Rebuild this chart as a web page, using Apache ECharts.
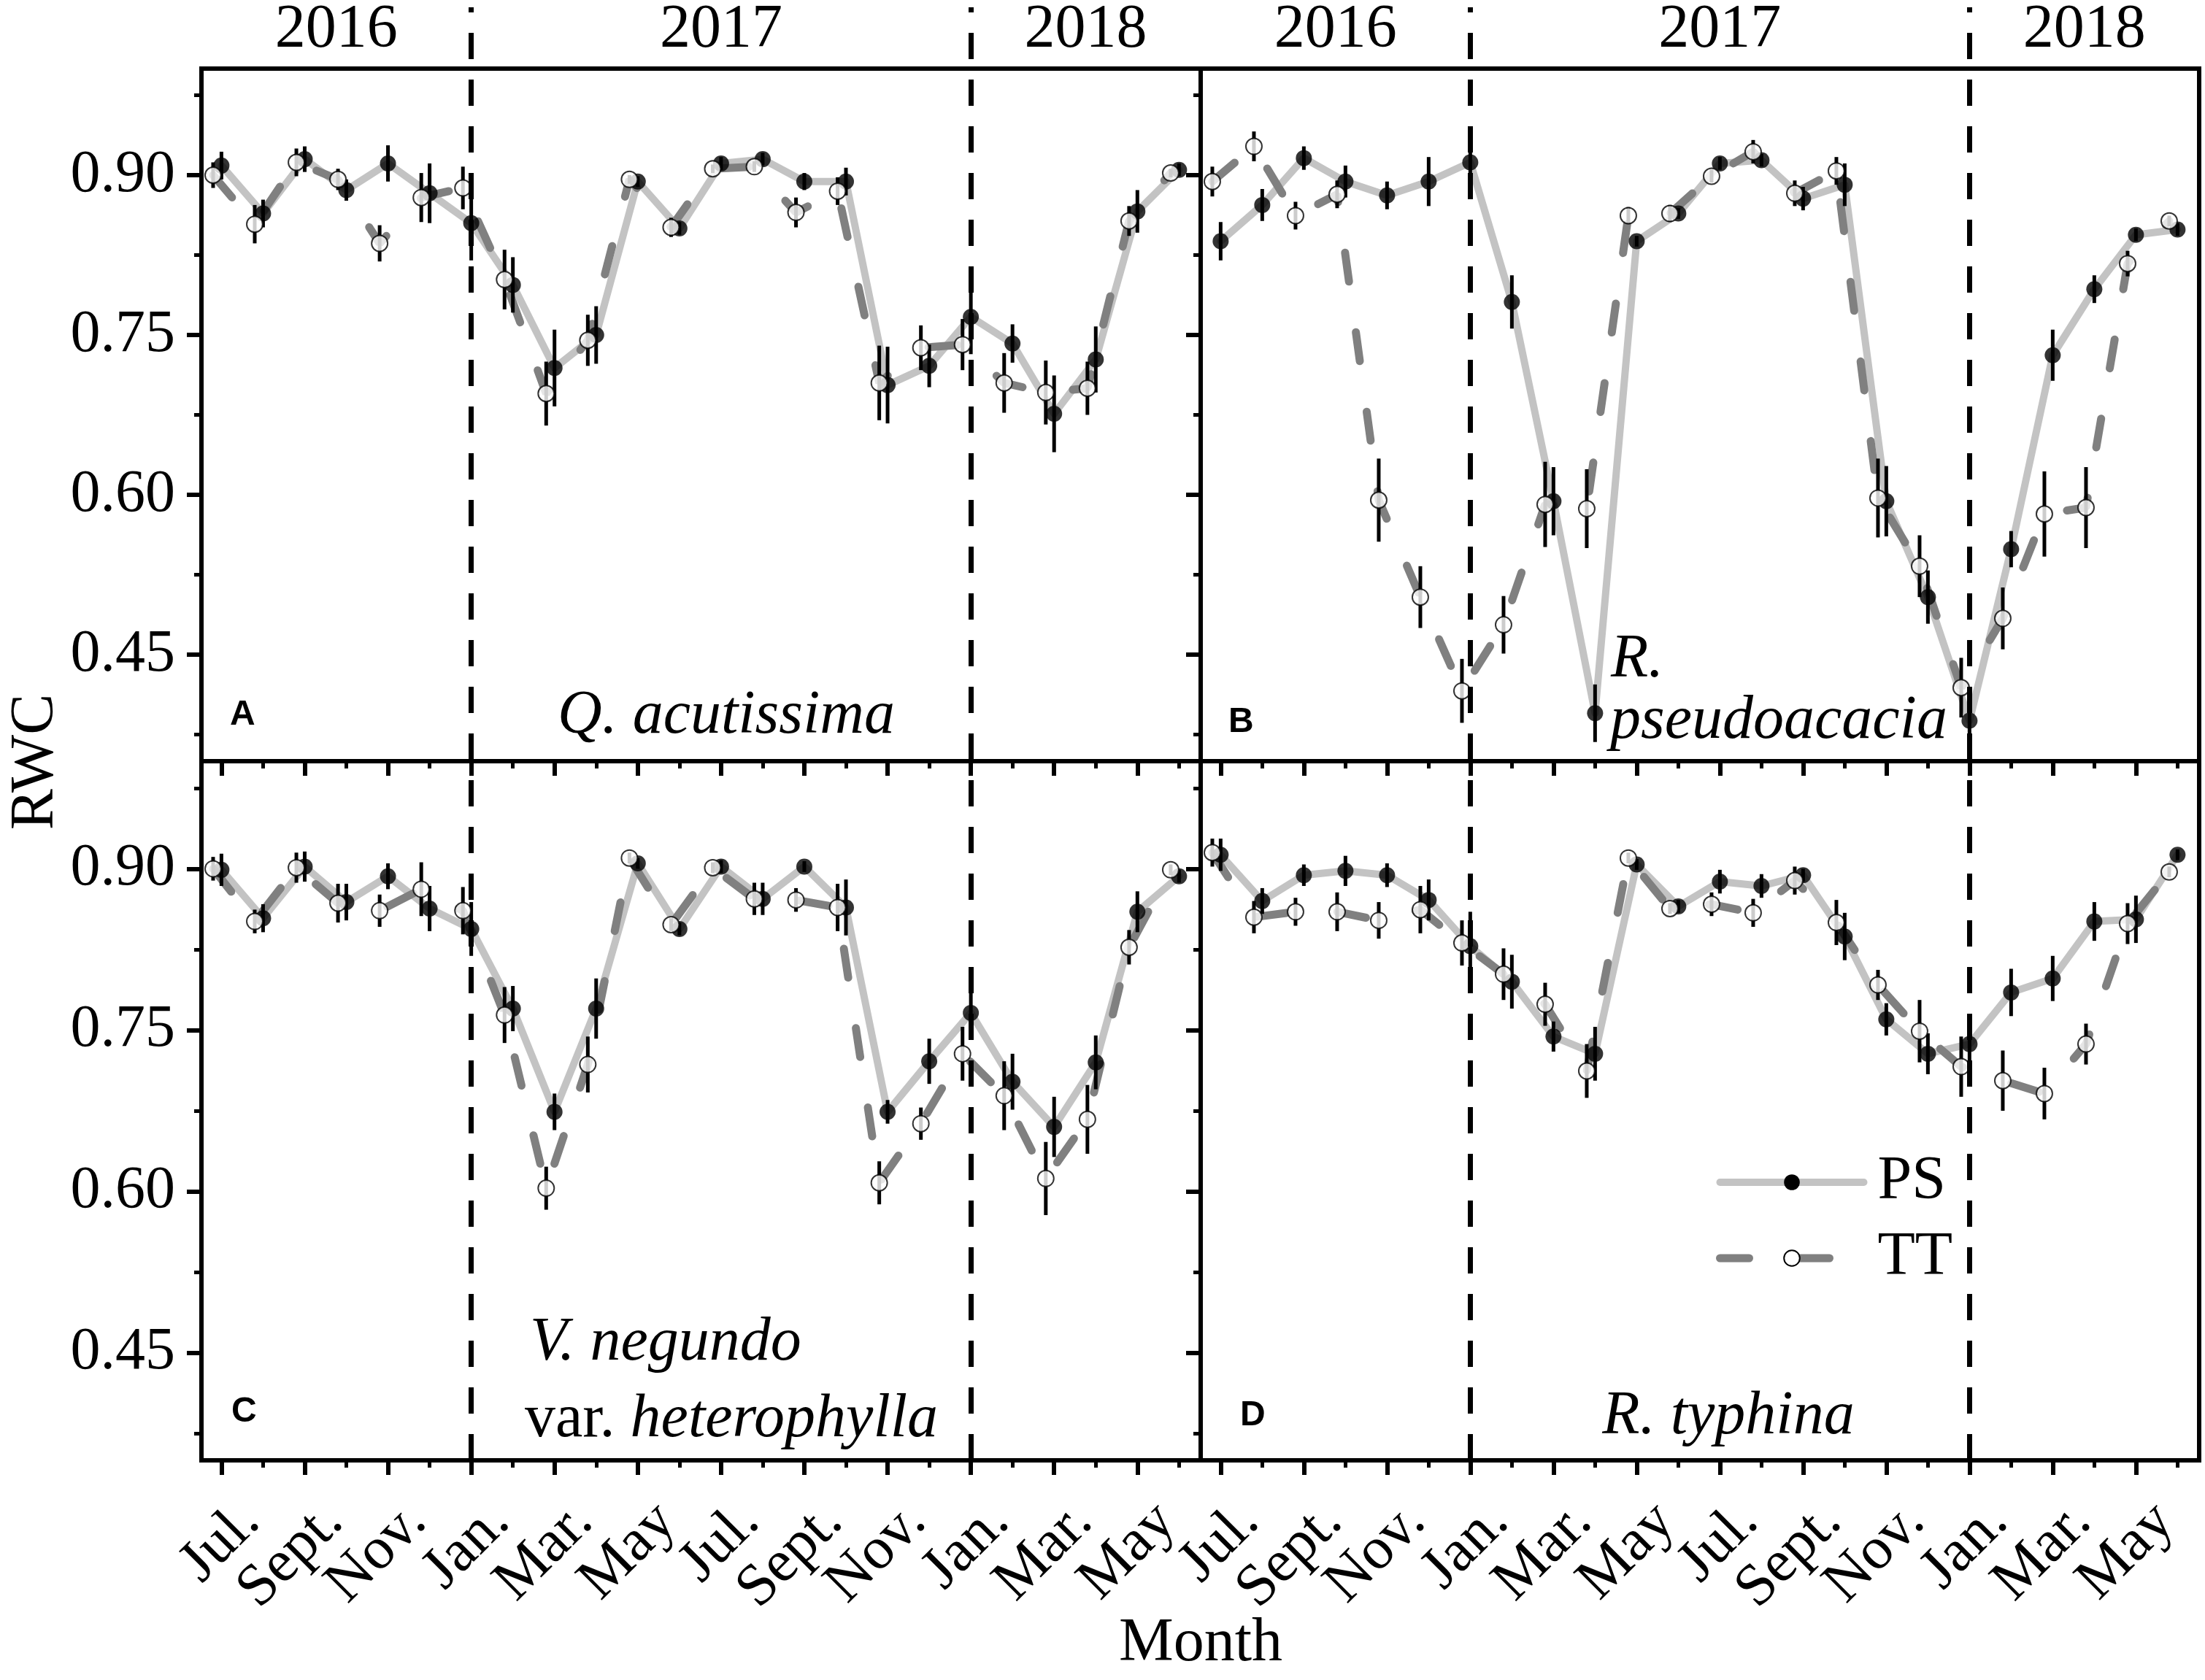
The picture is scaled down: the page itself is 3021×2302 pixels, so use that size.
<!DOCTYPE html>
<html>
<head>
<meta charset="utf-8">
<title>RWC</title>
<script src="https://cdn.jsdelivr.net/npm/echarts@6/dist/echarts.min.js"></script>
<style>
  html, body { margin: 0; padding: 0; background: #fff; }
  #main { width: 3021px; height: 2302px; }
</style>
</head>
<body>
<div id="main"></div>
<script>
// months: 0 = Jul. 2016 ... 23 = Jun. 2018
var months = [0, 1, 2, 3, 4, 5, 6, 7, 8, 9, 10, 11, 12, 13, 14, 15, 16, 17, 18, 19, 20, 21, 22, 23];
var labelMonths = [0, 2, 4, 6, 8, 10, 12, 14, 16, 18, 20, 22];
var monthLabels = ['Jul.', 'Sept.', 'Nov.', 'Jan.', 'Mar.', 'May', 'Jul.', 'Sept.', 'Nov.', 'Jan.', 'Mar.', 'May'];
var yTicks = [0.45, 0.60, 0.75, 0.90];
var yMinorTicks = [0.375, 0.45, 0.525, 0.60, 0.675, 0.75, 0.825, 0.90, 0.975];
var years = ['2016', '2017', '2018'];
var yearBreaks = [6, 18];   // Jan. 2017, Jan. 2018

// A  Q. acutissima
var psA = [0.909, 0.864, 0.915, 0.886, 0.911, 0.883, 0.855, 0.797, 0.719, 0.750, 0.894, 0.850,
           0.911, 0.915, 0.894, 0.894, 0.703, 0.721, 0.767, 0.742, 0.676, 0.727, 0.866, 0.905];
var psAErr = [0.013, 0.013, 0.012, 0.010, 0.017, 0.028, 0.035, 0.026, 0.036, 0.027, 0.005, 0.006,
              0.006, 0.006, 0.008, 0.013, 0.036, 0.020, 0.035, 0.018, 0.036, 0.031, 0.020, 0.006];
var ttA = [0.900, 0.854, 0.912, 0.896, 0.836, 0.879, 0.888, 0.802, 0.695, 0.745, 0.896, 0.851,
           0.906, 0.908, 0.865, 0.885, 0.705, 0.738, 0.741, 0.705, 0.696, 0.700, 0.857, 0.902];
var ttAErr = [0.012, 0.018, 0.013, 0.010, 0.017, 0.023, 0.020, 0.028, 0.030, 0.024, 0.004, 0.009,
              0.004, 0.005, 0.014, 0.013, 0.035, 0.021, 0.024, 0.028, 0.030, 0.025, 0.014, 0.004];
// B  R. pseudoacacia
var psB = [0.838, 0.872, 0.916, 0.894, 0.881, 0.894, 0.912, 0.781, 0.594, 0.395, 0.838, 0.864,
           0.911, 0.914, 0.878, 0.891, 0.594, 0.504, 0.388, 0.549, 0.731, 0.793, 0.844, 0.849];
var psBErr = [0.018, 0.015, 0.011, 0.015, 0.013, 0.023, 0.013, 0.025, 0.032, 0.027, 0.005, 0.005,
              0.006, 0.006, 0.011, 0.020, 0.033, 0.025, 0.029, 0.017, 0.024, 0.013, 0.006, 0.006];
var ttB = [0.894, 0.927, 0.862, 0.882, 0.595, 0.504, 0.416, 0.478, 0.591, 0.587, 0.862, 0.864,
           0.899, 0.922, 0.883, 0.904, 0.597, 0.533, 0.419, 0.484, 0.582, 0.588, 0.817, 0.857];
var ttBErr = [0.014, 0.014, 0.013, 0.013, 0.039, 0.029, 0.030, 0.027, 0.040, 0.037, 0.008, 0.008,
              0.006, 0.011, 0.012, 0.013, 0.037, 0.029, 0.028, 0.029, 0.040, 0.038, 0.012, 0.005];
// C  V. negundo var. heterophylla
var psC = [0.899, 0.854, 0.902, 0.869, 0.893, 0.863, 0.844, 0.770, 0.674, 0.770, 0.905, 0.844,
           0.902, 0.872, 0.902, 0.864, 0.674, 0.721, 0.766, 0.702, 0.660, 0.720, 0.860, 0.893];
var psCErr = [0.015, 0.013, 0.014, 0.017, 0.012, 0.021, 0.025, 0.021, 0.017, 0.028, 0.005, 0.006,
              0.006, 0.015, 0.005, 0.026, 0.011, 0.021, 0.024, 0.026, 0.028, 0.025, 0.019, 0.006];
var ttC = [0.900, 0.851, 0.901, 0.868, 0.861, 0.881, 0.861, 0.764, 0.603, 0.718, 0.910, 0.848,
           0.901, 0.872, 0.871, 0.864, 0.608, 0.663, 0.728, 0.689, 0.612, 0.667, 0.827, 0.899];
var ttCErr = [0.011, 0.011, 0.014, 0.018, 0.015, 0.025, 0.022, 0.026, 0.020, 0.026, 0.005, 0.006,
              0.005, 0.015, 0.011, 0.022, 0.020, 0.015, 0.025, 0.032, 0.034, 0.032, 0.016, 0.005];
// D  R. typhina
var psD = [0.913, 0.870, 0.894, 0.898, 0.894, 0.871, 0.828, 0.795, 0.744, 0.728, 0.904, 0.865,
           0.888, 0.884, 0.894, 0.837, 0.760, 0.728, 0.737, 0.785, 0.798, 0.851, 0.853, 0.913];
var psDErr = [0.015, 0.012, 0.010, 0.014, 0.011, 0.019, 0.032, 0.025, 0.014, 0.025, 0.005, 0.006,
              0.011, 0.011, 0.006, 0.022, 0.015, 0.019, 0.019, 0.022, 0.021, 0.018, 0.022, 0.005];
var ttD = [0.915, 0.855, 0.860, 0.860, 0.852, 0.862, 0.831, 0.802, 0.774, 0.712, 0.910, 0.863,
           0.867, 0.859, 0.889, 0.850, 0.792, 0.749, 0.716, 0.703, 0.691, 0.737, 0.849, 0.897];
var ttDErr = [0.013, 0.015, 0.013, 0.018, 0.017, 0.022, 0.021, 0.024, 0.020, 0.025, 0.005, 0.005,
              0.011, 0.013, 0.013, 0.021, 0.014, 0.029, 0.028, 0.028, 0.024, 0.019, 0.019, 0.005];

var panels = [
  { ps: psA, psErr: psAErr, tt: ttA, ttErr: ttAErr },
  { ps: psB, psErr: psBErr, tt: ttB, ttErr: ttBErr },
  { ps: psC, psErr: psCErr, tt: ttC, ttErr: ttCErr },
  { ps: psD, psErr: psDErr, tt: ttD, ttErr: ttDErr }
];

(function () {
  var myChart = echarts.init(document.getElementById('main'));
  var serif = 'Liberation Serif';
  var xMin = -0.48, xMax = 23.52;
  var ttShift = -0.2;      // TT points sit a bit left of the month
  var labelShift = 0.7;    // rotated labels hang to the right of the tick

  var psLine = { color: '#c3c3c3', width: 10, cap: 'round', join: 'round' };
  var ttLine = { color: '#808080', width: 11, type: [40, 70], cap: 'round' };
  var psItem = { color: '#000' };
  var ttItem = { color: '#fff', borderColor: '#000', borderWidth: 2 };
  var markSize = 22;

  // panel boxes: A B / C D, then two column overlays and one for axis names
  var grids = [
    { left: 276, top: 87, width: 1369, height: 956 },
    { left: 1645, top: 87, width: 1368, height: 956 },
    { left: 276, top: 1043, width: 1369, height: 958 },
    { left: 1645, top: 1043, width: 1368, height: 958 }
  ];
  grids.forEach(function (g) {
    g.show = true;
    g.borderColor = '#000';
    g.borderWidth = 6;
  });
  grids.push({ left: 276, top: 10, width: 1369, height: 1991 });
  grids.push({ left: 1645, top: 10, width: 1368, height: 1991 });
  grids.push({ left: 276, top: 87, width: 2737, height: 1914 });

  // empty labels at both ends keep the month labels from being dropped
  var labelValues = [xMin].concat(labelMonths.map(function (m) { return m + labelShift; })).concat([xMax]);
  function monthFormatter(v) {
    if (Math.abs(v - xMin) < 0.01 || Math.abs(v - xMax) < 0.01) return '';
    return monthLabels[Math.round((v - labelShift) / 2)];
  }

  var xAxes = [], yAxes = [];
  for (var i = 0; i < 4; i++) {
    var bottomRow = i >= 2, leftCol = i % 2 === 0;
    xAxes.push({
      gridIndex: i, type: 'value', min: xMin, max: xMax, position: 'bottom',
      axisLine: { show: true, onZero: false, lineStyle: { color: '#000', width: 6 } },
      axisTick: { show: true, customValues: labelMonths, length: 20, lineStyle: { color: '#000', width: 6 } },
      axisLabel: {
        show: bottomRow,
        customValues: labelValues,
        formatter: monthFormatter,
        hideOverlap: false,
        rotate: 45, margin: 72,
        fontFamily: serif, fontSize: 82, color: '#000'
      },
      splitLine: { show: false }
    });
    // month ticks
    xAxes.push({
      gridIndex: i, type: 'value', min: xMin, max: xMax, position: 'bottom',
      axisLine: { show: false, onZero: false },
      axisTick: { show: true, customValues: months, length: 10, lineStyle: { color: '#000', width: 5 } },
      axisLabel: { show: false },
      splitLine: { show: false }
    });
    yAxes.push({
      gridIndex: i, type: 'value', min: 0.35, max: 1.0, position: 'left',
      axisLine: { show: true, onZero: false, lineStyle: { color: '#000', width: 6 } },
      axisTick: { show: true, customValues: yTicks, length: 20, lineStyle: { color: '#000', width: 6 } },
      axisLabel: {
        show: leftCol, customValues: yTicks, margin: 36,
        formatter: function (v) { return v.toFixed(2); },
        fontFamily: serif, fontSize: 82, color: '#000'
      },
      splitLine: { show: false }
    });
    yAxes.push({
      gridIndex: i, type: 'value', min: 0.35, max: 1.0, position: 'left',
      axisLine: { show: false, onZero: false },
      axisTick: { show: true, customValues: yMinorTicks, length: 10, lineStyle: { color: '#000', width: 5 } },
      axisLabel: { show: false },
      splitLine: { show: false }
    });
  }
  // column overlays (dashed year boundaries)
  for (var c = 0; c < 2; c++) {
    xAxes.push({ gridIndex: 4 + c, type: 'value', min: xMin, max: xMax, show: false });
    yAxes.push({ gridIndex: 4 + c, type: 'value', min: 0, max: 1, show: false });
  }
  // axis names
  xAxes.push({
    gridIndex: 6, type: 'value', min: 0, max: 1,
    axisLine: { show: false, onZero: false }, axisTick: { show: false }, axisLabel: { show: false }, splitLine: { show: false },
    name: 'Month', nameLocation: 'middle', nameGap: 210,
    nameTextStyle: { fontFamily: serif, fontSize: 84, color: '#000' }
  });
  yAxes.push({
    gridIndex: 6, type: 'value', min: 0, max: 1,
    axisLine: { show: false, onZero: false }, axisTick: { show: false }, axisLabel: { show: false }, splitLine: { show: false },
    name: 'RWC', nameLocation: 'middle', nameGap: 185,
    nameTextStyle: { fontFamily: serif, fontSize: 84, color: '#000' }
  });
  // year labels over the top panels
  var edges = [xMin].concat(yearBreaks).concat([xMax]);
  var yearCenters = years.map(function (y, k) { return (edges[k] + edges[k + 1]) / 2; });
  for (var t = 0; t < 2; t++) {
    xAxes.push({
      gridIndex: t, type: 'value', min: xMin, max: xMax, position: 'top',
      axisLine: { show: false, onZero: false }, axisTick: { show: false }, splitLine: { show: false },
      axisLabel: {
        customValues: yearCenters, showMinLabel: true, showMaxLabel: true, margin: 10,
        formatter: function (v) {
          var best = 0;
          yearCenters.forEach(function (cv, k) {
            if (Math.abs(cv - v) < Math.abs(yearCenters[best] - v)) best = k;
          });
          return years[best];
        },
        fontFamily: serif, fontSize: 84, color: '#000'
      }
    });
  }

  function renderErr(params, api) {
    var x = api.value(0), y = api.value(1), e = api.value(2);
    var p1 = api.coord([x, y + e]);
    var p2 = api.coord([x, y - e]);
    return {
      type: 'line',
      shape: { x1: p1[0], y1: p1[1], x2: p2[0], y2: p2[1] },
      style: { stroke: '#000', lineWidth: 5 }
    };
  }

  var series = [];
  panels.forEach(function (p, i) {
    var psPts = months.map(function (m, k) { return [m, p.ps[k]]; });
    var ttPts = months.map(function (m, k) { return [m + ttShift, p.tt[k]]; });
    var psErr = months.map(function (m, k) { return [m, p.ps[k], p.psErr[k]]; });
    var ttErr = months.map(function (m, k) { return [m + ttShift, p.tt[k], p.ttErr[k]]; });
    var ax = { xAxisIndex: 2 * i, yAxisIndex: 2 * i };

    series.push(Object.assign({
      name: 'PS', type: 'line', data: psPts, z: 2,
      symbol: 'circle', symbolSize: markSize, showSymbol: false,
      lineStyle: psLine, itemStyle: psItem, emphasis: { disabled: true }
    }, ax));
    series.push(Object.assign({
      name: 'TT', type: 'line', data: ttPts, z: 2,
      symbol: 'circle', symbolSize: markSize, showSymbol: false,
      lineStyle: ttLine, itemStyle: ttItem, emphasis: { disabled: true }
    }, ax));
    series.push(Object.assign({
      name: 'PS err', type: 'custom', renderItem: renderErr, data: psErr, z: 3,
      encode: { x: 0, y: 1 }
    }, ax));
    series.push(Object.assign({
      name: 'TT err', type: 'custom', renderItem: renderErr, data: ttErr, z: 3,
      encode: { x: 0, y: 1 }
    }, ax));
    series.push(Object.assign({
      name: 'PS pts', type: 'scatter', data: psPts, z: 4,
      symbol: 'circle', symbolSize: markSize, itemStyle: psItem, emphasis: { disabled: true }
    }, ax));
    series.push(Object.assign({
      name: 'TT pts', type: 'scatter', data: ttPts, z: 4,
      symbol: 'circle', symbolSize: markSize, itemStyle: ttItem, emphasis: { disabled: true }
    }, ax));
  });

  // dashed lines at each new year, through both rows
  for (var c2 = 0; c2 < 2; c2++) {
    series.push({
      name: 'years', type: 'scatter', xAxisIndex: 8 + c2, yAxisIndex: 8 + c2,
      data: yearBreaks.map(function (b) { return [b, 0]; }),
      symbolSize: 0, z: 1, silent: true,
      markLine: {
        silent: true, symbol: ['none', 'none'], label: { show: false },
        lineStyle: { color: '#000', width: 7, type: [36, 28] },
        data: yearBreaks.map(function (b) { return { xAxis: b }; })
      }
    });
  }

  function txt(x, y, s, font, align) {
    return {
      type: 'text', x: x, y: y, z: 10,
      style: { text: s, font: font, fill: '#000', align: align || 'left', verticalAlign: 'middle' }
    };
  }
  var letterFont = 'bold 48px "Liberation Sans"';
  var italic = 'italic 84px "Liberation Serif"';

  var option = {
    animation: false,
    backgroundColor: '#fff',
    grid: grids,
    xAxis: xAxes,
    yAxis: yAxes,
    legend: {
      data: [
        { name: 'PS', lineStyle: psLine, itemStyle: psItem },
        { name: 'TT', lineStyle: ttLine, itemStyle: ttItem }
      ],
      orient: 'vertical', left: 2346, top: 1573,
      itemWidth: 197, itemHeight: 27, itemGap: 20, selectedMode: false,
      textStyle: { fontFamily: serif, fontSize: 84, color: '#000', padding: [0, 0, 0, 14] }
    },
    graphic: [
      txt(315, 980, 'A', letterFont),
      txt(1683, 990, 'B', letterFont),
      txt(317, 1935, 'C', letterFont),
      txt(1699, 1940, 'D', letterFont),
      txt(995, 982, 'Q. acutissima', italic, 'center'),
      txt(2207, 905, 'R.', italic),
      txt(2206, 989, 'pseudoacacia', italic),
      txt(726, 1841, 'V. negundo', italic),
      {
        type: 'text', x: 719, y: 1946, z: 10,
        style: {
          text: '{n|var. }{i|heterophylla}', verticalAlign: 'middle', fill: '#000',
          rich: {
            n: { fontFamily: serif, fontSize: 84, fill: '#000' },
            i: { fontFamily: serif, fontSize: 84, fontStyle: 'italic', fill: '#000' }
          }
        }
      },
      txt(2368, 1942, 'R. typhina', italic, 'center')
    ],
    series: series
  };

  myChart.setOption(option);
  window.addEventListener('resize', function () { myChart.resize(); });
})();
</script>
</body>
</html>
